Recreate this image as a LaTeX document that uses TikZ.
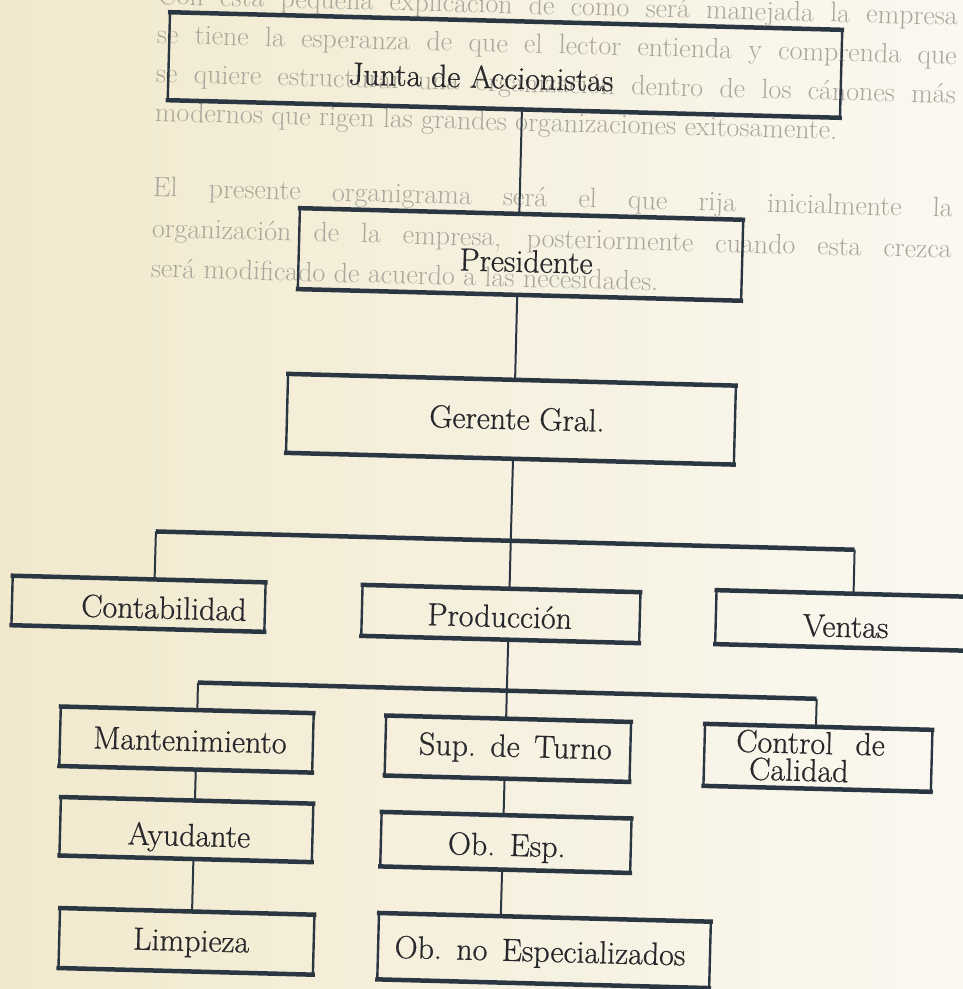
\documentclass[tikz,border=0pt]{standalone}
\usepackage{fontspec}
\usetikzlibrary{calc}
\newfontfamily\lblfont[FakeBold=0.7]{Latin Modern Roman}
\definecolor{pageL}{RGB}{241,233,205}
\definecolor{pageM}{RGB}{246,242,229}
\definecolor{pageR}{RGB}{250,248,240}
\definecolor{inkc}{RGB}{42,54,66}
\definecolor{txtc}{RGB}{40,40,44}
\definecolor{ghost}{RGB}{170,166,155}
\newcommand{\wgap}{\hspace{0.45em}}
\begin{document}
\begin{tikzpicture}[x=1pt,y=-1pt,
  orgbox/.style={draw=inkc, line width=2.4pt, inner sep=0pt, outer sep=0pt, transform shape, rectangle},
  hedge/.style={draw=inkc, line width=4.5pt, shorten <=-2pt, shorten >=-2pt},
  conn/.style={draw=inkc, line width=2pt},
  hbar/.style={draw=inkc, line width=4.5pt},
  lbl/.style={font=\lblfont\fontsize{32}{36}\selectfont, text=txtc, inner sep=0pt, transform shape, anchor=base},
  bgtxt/.style={font=\fontsize{28}{32}\selectfont, text=ghost, inner sep=0pt, transform shape, anchor=base west}
]
\useasboundingbox (0,0) rectangle (963,989);
\shade[left color=pageL, middle color=pageM, right color=pageR] (0,0) rectangle (963,989);
\begin{scope}[rotate around={-1.5:(481,494)}]
  % faint page text showing through
  \node[bgtxt] (bg1) at (145,13) {\makebox[800pt][s]{Con esta pequeña explicación de como será manejada la empresa}};
  \node[bgtxt] (bg2) at (145,52) {\makebox[800pt][s]{se tiene la esperanza de que el lector entienda y comprenda que}};
  \node[bgtxt] (bg3) at (145,91) {\makebox[800pt][s]{se quiere estructurar una organización dentro de los cánones más}};
  \node[bgtxt] (bg4) at (145,130) {modernos que rigen las grandes organizaciones exitosamente.};
  \node[bgtxt] (bg5) at (145,205) {\makebox[800pt][s]{El presente organigrama será el que rija inicialmente la}};
  \node[bgtxt] (bg6) at (145,246) {\makebox[800pt][s]{organización de la empresa, posteriormente cuando esta crezca}};
  \node[bgtxt] (bg7) at (145,286) {será modificado de acuerdo a las necesidades.};

  % boxes
  \node[orgbox, minimum width=672.5pt, minimum height=88pt] (junta) at (493.75,64.5) {};
  \node[orgbox, minimum width=443.5pt, minimum height=81pt] (pres) at (514.25,253.5) {};
  \node[orgbox, minimum width=448pt, minimum height=79pt] (ger) at (509,418.5) {};
  \node[orgbox, minimum width=253pt, minimum height=49.5pt] (cont) at (141.5,612.75) {};
  \node[orgbox, minimum width=278pt, minimum height=51pt] (prod) at (504,613.5) {};
  \node[orgbox, minimum width=281pt, minimum height=54pt] (vent) at (859.5,611) {};
  \node[orgbox, minimum width=253pt, minimum height=59.5pt] (mant) at (193,747.25) {};
  \node[orgbox, minimum width=245pt, minimum height=60pt] (sup) at (514.5,748) {};
  \node[orgbox, minimum width=227.5pt, minimum height=62pt] (cdc) at (824.75,749) {};
  \node[orgbox, minimum width=252.5pt, minimum height=58.5pt] (ayud) at (195.25,837.25) {};
  \node[orgbox, minimum width=254.5pt, minimum height=60pt] (limp) at (198.25,949) {};
  \node[orgbox, minimum width=250pt, minimum height=54.5pt] (obesp) at (515,841.75) {};
  \node[orgbox, minimum width=332pt, minimum height=66.4pt] (obno) at (556,948.8) {};

  \foreach \n in {junta,pres,ger,cont,prod,vent,mant,sup,cdc,ayud,limp,obesp,obno}{
    \draw[hedge] (\n.north west) -- (\n.north east);
    \draw[hedge] (\n.south west) -- (\n.south east);
  }

  % labels (positioned by baseline)
  \node[lbl] (junta-t) at (470,88) {Junta de Accionistas};
  \node[lbl] (pres-t) at (520,271) {Presidente};
  \node[lbl] (ger-t) at (515,428.5) {Gerente Gral.};
  \node[lbl] (cont-t) at (167,627) {Contabilidad};
  \node[lbl] (prod-t) at (503,626.5) {Producción};
  \node[lbl] (vent-t) at (849,627.5) {Ventas};
  \node[lbl] (mant-t) at (196.5,758.5) {Mantenimiento};
  \node[lbl] (sup-t) at (522,756) {Sup.\wgap de\wgap Turno};
  \node[lbl] (cdc-t1) at (817,745) {Control\hspace{0.7em}de};
  \node[lbl] (cdc-t2) at (806,772.5) {Calidad};
  \node[lbl] (ayud-t) at (198,853.5) {Ayudante};
  \node[lbl] (limp-t) at (203,958.5) {Limpieza};
  \node[lbl] (obesp-t) at (516,855) {Ob.\wgap Esp.};
  \node[lbl] (obno-t) at (552,960) {Ob.\wgap no\wgap Especializados};

  % bar coordinates
  \coordinate (b1l) at (157,540);
  \coordinate (b1m) at (512,540);
  \coordinate (b1r) at (856,540);
  \coordinate (b2l) at (203,690);
  \coordinate (b2m) at (512,690);
  \coordinate (b2r) at (822,690);

  % connectors
  \draw[conn] ($(junta.south west)!0.527!(junta.south east)$) -- ($(pres.north west)!0.495!(pres.north east)$);
  \draw[conn] ($(pres.south west)!0.495!(pres.south east)$) -- ($(ger.north west)!0.507!(ger.north east)$);
  \draw[conn] ($(ger.south west)!0.507!(ger.south east)$) -- (b1m);
  \draw[hbar] (b1l) -- (b1r);
  \draw[conn] (b1l) -- ($(cont.north west)!0.561!(cont.north east)$);
  \draw[conn] (b1m) -- ($(prod.north west)!0.529!(prod.north east)$);
  \draw[conn] (b1r) -- ($(vent.north west)!0.488!(vent.north east)$);
  \draw[conn] ($(prod.south west)!0.529!(prod.south east)$) -- (b2m);
  \draw[hbar] (b2l) -- (b2r);
  \draw[conn] (b2l) -- ($(mant.north west)!0.540!(mant.north east)$);
  \draw[conn] (b2m) -- ($(sup.north west)!0.490!(sup.north east)$);
  \draw[conn] (b2r) -- ($(cdc.north west)!0.488!(cdc.north east)$);
  \draw[conn] ($(mant.south west)!0.540!(mant.south east)$) -- ($(ayud.north west)!0.531!(ayud.north east)$);
  \draw[conn] ($(ayud.south west)!0.531!(ayud.south east)$) -- ($(limp.north west)!0.519!(limp.north east)$);
  \draw[conn] ($(sup.south west)!0.490!(sup.south east)$) -- ($(obesp.north west)!0.488!(obesp.north east)$);
  \draw[conn] ($(obesp.south west)!0.488!(obesp.south east)$) -- ($(obno.north west)!0.367!(obno.north east)$);
\end{scope}
\end{tikzpicture}
\end{document}
